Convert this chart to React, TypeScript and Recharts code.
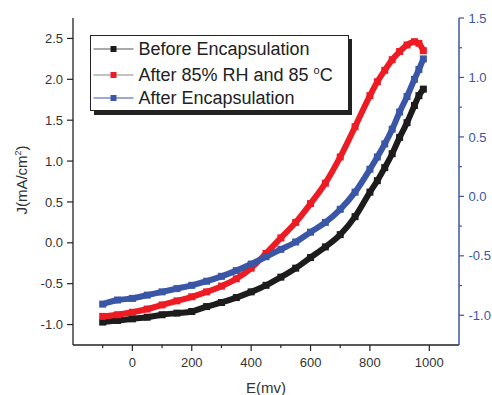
import React from 'react';
import { LineChart, Line, XAxis, YAxis, Legend, Label } from 'recharts';

// E (mV) sample positions
const voltages = [-100, -50, 0, 50, 100, 150, 200, 250, 300, 350, 400, 450, 500, 550, 600, 650, 700, 750, 800, 825, 850, 875, 900, 925, 950, 965, 980];

// J (mA/cm2) read against the left axis
const beforeEncapsulation = [-0.97, -0.95, -0.93, -0.91, -0.88, -0.86, -0.84, -0.78, -0.73, -0.67, -0.6, -0.52, -0.42, -0.31, -0.18, -0.05, 0.1, 0.32, 0.62, 0.76, 0.92, 1.09, 1.29, 1.47, 1.68, 1.8, 1.88];
const afterHumidity = [-0.9, -0.88, -0.85, -0.81, -0.76, -0.71, -0.66, -0.6, -0.53, -0.44, -0.31, -0.13, 0.06, 0.25, 0.48, 0.73, 1.05, 1.42, 1.8, 1.97, 2.11, 2.24, 2.34, 2.42, 2.46, 2.44, 2.35];
const afterEncapsulation = [-0.75, -0.7, -0.68, -0.64, -0.6, -0.56, -0.52, -0.47, -0.41, -0.34, -0.26, -0.17, -0.08, 0.01, 0.13, 0.25, 0.41, 0.62, 0.9, 1.05, 1.21, 1.39, 1.6, 1.79, 2.0, 2.12, 2.25];

const xTicks = [-200, -100, 0, 100, 200, 300, 400, 500, 600, 700, 800, 900, 1000];
const topTicks = [-100, 0, 100, 200, 300, 400, 500, 600, 700, 800, 900, 1000];
const leftTicks = [-1, -0.75, -0.5, -0.25, 0, 0.25, 0.5, 0.75, 1, 1.25, 1.5, 1.75, 2, 2.25, 2.5];
const rightTicks = [-1, -0.75, -0.5, -0.25, 0, 0.25, 0.5, 0.75, 1, 1.25, 1.5];

const BLACK = '#1c1c1c';
const RED = '#ed1c24';
const BLUE = '#3a56a6';
const AXIS = '#222';
const TEXT = '#333';
const FONT = "'Liberation Sans', Arial, sans-serif";

const data = voltages.map((e, i) => ({
  e,
  before: beforeEncapsulation[i],
  humid: afterHumidity[i],
  encap: afterEncapsulation[i],
}));

const isHalf = (v: number) => Math.abs(v * 2 - Math.round(v * 2)) < 1e-6;

const BottomTick = (props: any) => {
  const { x, y, payload } = props;
  const major = payload.value % 200 === 0;
  return (
    <g>
      <line x1={x} x2={x} y1={y} y2={y + (major ? 6 : 3)} stroke={AXIS} strokeWidth={1.2} />
      {major && (
        <text x={x} y={y + 21.5} textAnchor="middle" fontSize={13} fill={TEXT} fontFamily={FONT}>
          {payload.value}
        </text>
      )}
    </g>
  );
};

const TopTick = (props: any) => {
  const { x, y } = props;
  return <line x1={x} x2={x} y1={y} y2={y + 5} stroke={AXIS} strokeWidth={1.2} />;
};

const LeftTick = (props: any) => {
  const { x, y, payload } = props;
  const major = isHalf(payload.value);
  return (
    <g>
      <line x1={x} x2={x - (major ? 6 : 3)} y1={y} y2={y} stroke={AXIS} strokeWidth={1.2} />
      {major && (
        <text x={x - 10} y={y} dy="0.36em" textAnchor="end" fontSize={13} fill={TEXT} fontFamily={FONT}>
          {payload.value.toFixed(1)}
        </text>
      )}
    </g>
  );
};

const RightTick = (props: any) => {
  const { x, y, payload } = props;
  const major = isHalf(payload.value);
  return (
    <g>
      <line x1={x} x2={x + (major ? 5 : 3)} y1={y} y2={y} stroke={BLUE} strokeWidth={1.2} />
      {major && (
        <text x={x + 9.5} y={y} dy="0.36em" textAnchor="start" fontSize={13} fill={BLUE} fontFamily={FONT}>
          {payload.value.toFixed(1)}
        </text>
      )}
    </g>
  );
};

const squareDot = (color: string) => (p: any) => (
  <rect key={`d-${p.index}`} x={p.cx - 3.5} y={p.cy - 3.5} width={7} height={7} fill={color} />
);

const legendRows = [
  { label: 'Before Encapsulation', color: BLACK, line: '#555', y: 14 },
  { label: 'After 85% RH and 85 ', color: RED, line: '#888', y: 40, degree: true },
  { label: 'After Encapsulation', color: BLUE, line: BLUE, y: 63 },
];

const renderLegend = () => (
  <svg width={264} height={82} style={{ display: 'block' }}>
    <rect x={4} y={4} width={258} height={76} fill="#222" />
    <rect x={0.5} y={0.5} width={258} height={75} fill="#fff" stroke="#222" strokeWidth={1} />
    {legendRows.map((r) => (
      <g key={r.label}>
        <line x1={3.5} x2={43.5} y1={r.y} y2={r.y} stroke={r.line} strokeWidth={1.2} />
        <rect x={20.5} y={r.y - 3} width={6} height={6} fill={r.color} />
        <text x={48.5} y={r.y + 6.4} fontSize={18} fill="#222" fontFamily={FONT}>
          {r.label}
          {r.degree && (
            <>
              <tspan dy={-7} fontSize={11}>o</tspan>
              <tspan dy={7}>C</tspan>
            </>
          )}
        </text>
      </g>
    ))}
  </svg>
);

const YLabel = () => (
  <text
    x={27}
    y={180}
    transform="rotate(-90 27 180)"
    textAnchor="middle"
    fontSize={15}
    fill={TEXT}
    fontFamily={FONT}
  >
    J(mA/cm<tspan dy={-6} fontSize={9}>2</tspan>
    <tspan dy={6}>)</tspan>
  </text>
);

export default function App() {
  return (
    <div style={{ position: 'absolute', left: 0, top: 0, width: 492, height: 395, background: '#fff' }}>
      <LineChart width={492} height={395} data={data} margin={{ top: 18, right: 0, bottom: 0, left: 0 }}>
        <XAxis
          xAxisId="bottom"
          dataKey="e"
          type="number"
          domain={[-200, 1100]}
          ticks={xTicks}
          allowDataOverflow
          height={50}
          tickSize={0}
          tickMargin={0}
          tickLine={false}
          tick={<BottomTick />}
          axisLine={{ stroke: AXIS, strokeWidth: 1.3 }}
        >
          <Label value="E(mv)" position="insideBottom" offset={2} fontSize={15} fill={TEXT} fontFamily={FONT} />
        </XAxis>
        <XAxis
          xAxisId="top"
          orientation="top"
          dataKey="e"
          type="number"
          domain={[-200, 1100]}
          ticks={topTicks}
          allowDataOverflow
          height={0}
          tickSize={0}
          tickMargin={0}
          tickLine={false}
          tick={<TopTick />}
          axisLine={{ stroke: AXIS, strokeWidth: 1.3 }}
        />
        <YAxis
          yAxisId="left"
          type="number"
          domain={[-1.25, 2.75]}
          ticks={leftTicks}
          allowDataOverflow
          width={73}
          tickSize={0}
          tickMargin={0}
          tickLine={false}
          tick={<LeftTick />}
          axisLine={{ stroke: AXIS, strokeWidth: 1.3 }}
          label={<YLabel />}
        />
        <YAxis
          yAxisId="right"
          orientation="right"
          type="number"
          domain={[-1.25, 1.5]}
          ticks={rightTicks}
          allowDataOverflow
          width={33}
          tickSize={0}
          tickMargin={0}
          tickLine={false}
          tick={<RightTick />}
          axisLine={{ stroke: BLUE, strokeWidth: 1.5 }}
        />
        <Legend
          layout="horizontal"
          verticalAlign="middle"
          content={renderLegend}
          wrapperStyle={{ left: 89.5, top: 35, width: 264, height: 82 }}
        />
        <Line xAxisId="bottom" yAxisId="left" type="monotone" dataKey="before" name="Before Encapsulation" stroke={BLACK} strokeWidth={6} dot={squareDot(BLACK)} isAnimationActive={false} />
        <Line xAxisId="bottom" yAxisId="left" type="monotone" dataKey="humid" name="After 85% RH and 85 °C" stroke={RED} strokeWidth={6} dot={squareDot(RED)} isAnimationActive={false} />
        <Line xAxisId="bottom" yAxisId="left" type="monotone" dataKey="encap" name="After Encapsulation" stroke={BLUE} strokeWidth={6} dot={squareDot(BLUE)} isAnimationActive={false} />
      </LineChart>
    </div>
  );
}
